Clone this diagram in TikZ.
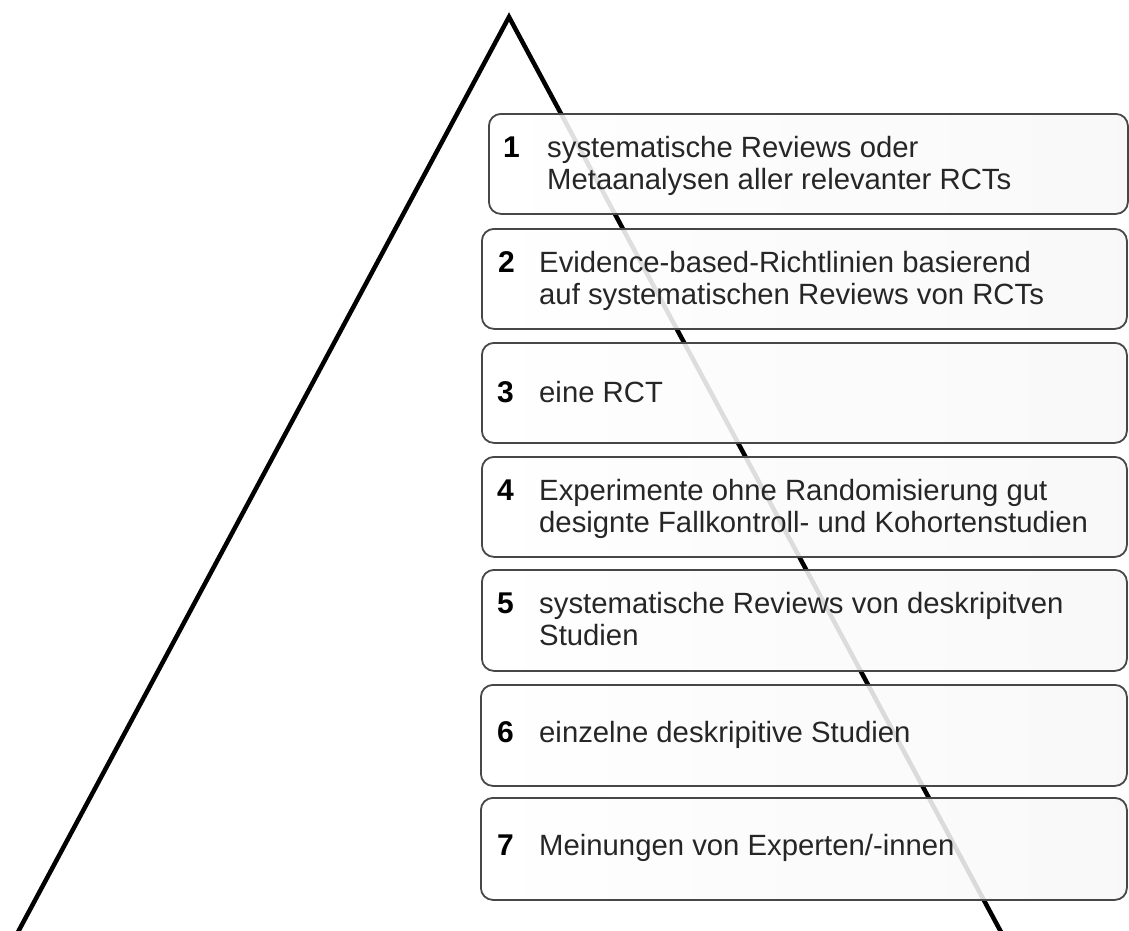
\documentclass[tikz,border=0pt]{standalone}
\usepackage{fontspec}
\setmainfont{Liberation Sans}
\usetikzlibrary{calc}
\tikzset{
  pyr/.style={line width=4.5pt, line join=miter, black},
  levelbox/.style={draw=black!72, line width=1.8pt, rounded corners=12pt,
    left color=white, right color=black!3, fill opacity=0.88,
    anchor=north west, inner sep=0pt, minimum height=100pt},
  num/.style={anchor=base west, inner sep=0pt, font=\fontsize{30}{32}\selectfont\bfseries, text=black},
  txt/.style={anchor=base west, inner sep=0pt, font=\fontsize{29.3}{32}\selectfont, text=black!85},
}
\newcommand{\twolines}[2]{\vtop{\baselineskip=32pt\hbox{#1}\hbox{#2}}}
\begin{document}
\begin{tikzpicture}[x=1pt,y=-1pt]
\useasboundingbox (0,0) rectangle (1129,930);
% pyramid
\coordinate (apex) at (509,17);
\coordinate (bl) at (18,932);
\coordinate (br) at (1001,932);
\draw[pyr] (bl) -- (apex) -- (br);
% boxes
\node[levelbox, minimum width=639pt] (b1) at (488,113) {};
\node[levelbox, minimum width=645pt] (b2) at (481,228) {};
\node[levelbox, minimum width=645pt] (b3) at (481,342) {};
\node[levelbox, minimum width=645pt] (b4) at (481,456) {};
\node[levelbox, minimum width=645pt, minimum height=101pt] (b5) at (481,569) {};
\node[levelbox, minimum width=646pt, minimum height=101pt] (b6) at (480,684) {};
\node[levelbox, minimum width=646pt, minimum height=102pt] (b7) at (480,797) {};
% labels
\node[num] (n1) at ($(b1.north west)+(15,44)$) {1};
\node[txt] (t1) at ($(b1.north west)+(59,44)$) {\twolines{systematische Reviews oder}{Metaanalysen aller relevanter RCTs}};
\node[num] (n2) at ($(b2.north west)+(17,44)$) {2};
\node[txt] (t2) at ($(b2.north west)+(58,44)$) {\twolines{Evidence-based-Richtlinien basierend}{auf systematischen Reviews von RCTs}};
\node[num] (n3) at ($(b3.north west)+(16,60)$) {3};
\node[txt] (t3) at ($(b3.north west)+(58,60)$) {eine RCT};
\node[num] (n4) at ($(b4.north west)+(16,44)$) {4};
\node[txt] (t4) at ($(b4.north west)+(58,44)$) {\twolines{Experimente ohne Randomisierung gut}{designte Fallkontroll- und Kohortenstudien}};
\node[num] (n5) at ($(b5.north west)+(16,44)$) {5};
\node[txt] (t5) at ($(b5.north west)+(58,44)$) {\twolines{systematische Reviews von deskripitven}{Studien}};
\node[num] (n6) at ($(b6.north west)+(17,58)$) {6};
\node[txt] (t6) at ($(b6.north west)+(59,58)$) {einzelne deskripitive Studien};
\node[num] (n7) at ($(b7.north west)+(17,58)$) {7};
\node[txt] (t7) at ($(b7.north west)+(59,58)$) {Meinungen von Experten/-innen};
\end{tikzpicture}
\end{document}
